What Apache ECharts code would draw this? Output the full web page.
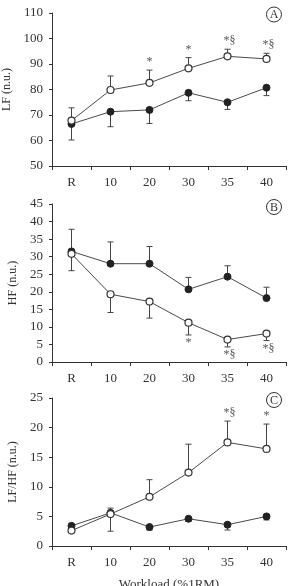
<!DOCTYPE html>
<html>
<head>
<meta charset="utf-8">
<script src="https://cdn.jsdelivr.net/npm/echarts@6/dist/echarts.min.js"></script>
<style>
  html, body { margin: 0; padding: 0; background: #fff; }
  #chart { width: 289px; height: 586px; }
</style>
</head>
<body>
<div id="chart"></div>
<script>
// workload categories (shared by the three panels)
const categories = ['R', '10', '20', '30', '35', '40'];

// panel A - LF (n.u.)
const lfOpen = [67.8, 79.8, 82.6, 88.3, 93.0, 92.0];
const lfOpenErr = [5.0, 5.5, 5.0, 4.2, 2.8, 2.2];
const lfFilled = [66.5, 71.3, 72.0, 78.7, 75.0, 80.7];
const lfFilledErr = [-6.3, -5.9, -5.3, -3.1, -2.8, -3.1];
const lfMarks = ['', '', '*', '*', '*§', '*§'];

// panel B - HF (n.u.)
const hfFilled = [31.5, 28.0, 28.0, 20.7, 24.3, 18.2];
const hfFilledErr = [6.3, 6.2, 4.9, 3.4, 3.1, 3.1];
const hfOpen = [30.8, 19.3, 17.2, 11.2, 6.4, 8.1];
const hfOpenErr = [-4.8, -5.2, -4.7, -3.5, -2.1, -2.0];
const hfMarks = ['', '', '', '*', '*§', '*§'];

// panel C - LF/HF
const ratioOpen = [2.6, 5.4, 8.3, 12.4, 17.5, 16.4];
const ratioOpenErr = [0.3, -2.9, 2.9, 4.8, 3.6, 4.2];
const ratioFilled = [3.4, 5.6, 3.2, 4.6, 3.6, 5.0];
const ratioFilledErr = [-0.4, 0.8, -0.5, -0.4, -0.9, -0.6];
const ratioMarks = ['', '', '', '', '*§', '*'];

const FONT = '"Liberation Serif", "DejaVu Serif", serif';
const INK = '#333';

let chart = echarts.init(document.getElementById('chart'), null, { renderer: 'canvas' });

function xAxis(gridIndex, name) {
    return {
        type: 'category',
        gridIndex: gridIndex,
        data: categories,
        boundaryGap: true,
        name: name || '',
        nameLocation: 'middle',
        nameGap: 32,
        nameTextStyle: { fontFamily: FONT, fontSize: 13, color: INK },
        axisLine: { lineStyle: { color: INK, width: 1 } },
        axisTick: { show: true, length: 4, lineStyle: { color: INK } },
        axisLabel: { fontFamily: FONT, fontSize: 13, color: INK, margin: 10 },
        splitLine: { show: false }
    };
}

function yAxis(gridIndex, name, min, max, interval, gap) {
    return {
        type: 'value',
        gridIndex: gridIndex,
        min: min, max: max, interval: interval,
        name: name,
        nameLocation: 'middle',
        nameGap: gap,
        nameTextStyle: { fontFamily: FONT, fontSize: 12, color: INK },
        axisLine: { show: true, lineStyle: { color: INK, width: 1 } },
        axisTick: { show: true, length: 3, lineStyle: { color: INK } },
        axisLabel: { fontFamily: FONT, fontSize: 13, color: INK, margin: 9 },
        splitLine: { show: false }
    };
}

function lineSeries(idx, values, open) {
    return {
        type: 'line',
        xAxisIndex: idx, yAxisIndex: idx,
        data: values,
        symbol: 'circle',
        symbolSize: 7,
        z: 3,
        lineStyle: { color: '#4a4a4a', width: 1 },
        itemStyle: open
            ? { color: '#fff', borderColor: INK, borderWidth: 1.2 }
            : { color: '#222', borderColor: '#222', borderWidth: 1 },
        emphasis: { disabled: true }
    };
}

// error bar: line from the mean to mean+err, with a cap
function errorSeries(idx, values, errs) {
    return {
        type: 'custom',
        xAxisIndex: idx, yAxisIndex: idx,
        z: 2,
        data: values.map((v, i) => [i, v, errs[i]]),
        renderItem: function (params, api) {
            const p = api.coord([api.value(0), api.value(1)]);
            const q = api.coord([api.value(0), api.value(1) + api.value(2)]);
            const st = { stroke: '#444', lineWidth: 1 };
            return {
                type: 'group',
                children: [
                    { type: 'line', shape: { x1: p[0], y1: p[1], x2: q[0], y2: q[1] }, style: st },
                    { type: 'line', shape: { x1: q[0] - 3, y1: q[1], x2: q[0] + 3, y2: q[1] }, style: st }
                ]
            };
        }
    };
}

// significance marks next to the error bar end
function markSeries(idx, values, errs, marks, below) {
    return {
        type: 'custom',
        xAxisIndex: idx, yAxisIndex: idx,
        z: 4,
        data: values.map((v, i) => [i, v + errs[i]]),
        renderItem: function (params, api) {
            const txt = marks[params.dataIndex];
            if (!txt) return null;
            const q = api.coord([api.value(0), api.value(1)]);
            return {
                type: 'text',
                x: q[0] + (txt.length > 1 ? 2 : 0),
                y: below ? q[1] + 2 : q[1] - 2,
                style: {
                    text: txt,
                    fill: '#555',
                    font: '12px ' + FONT,
                    textAlign: 'center',
                    textVerticalAlign: below ? 'top' : 'bottom'
                }
            };
        }
    };
}

function panelLetter(letter, x, y) {
    return {
        type: 'group',
        x: x, y: y,
        children: [
            { type: 'circle', shape: { cx: 0, cy: 0, r: 7.5 }, style: { fill: '#fff', stroke: INK, lineWidth: 1 } },
            { type: 'text', x: 0, y: 0.5, style: { text: letter, font: '12px ' + FONT, fill: INK, textAlign: 'center', textVerticalAlign: 'middle' } }
        ]
    };
}

let option = {
    animation: false,
    backgroundColor: '#fff',
    grid: [
        { left: 52, width: 234, top: 13, height: 153, outerBoundsMode: 'none', containLabel: false },
        { left: 52, width: 234, top: 204, height: 158, outerBoundsMode: 'none', containLabel: false },
        { left: 52, width: 234, top: 398, height: 148, outerBoundsMode: 'none', containLabel: false }
    ],
    xAxis: [xAxis(0), xAxis(1), xAxis(2, 'Workload (%1RM)')],
    yAxis: [
        yAxis(0, 'LF (n.u.)', 50, 110, 10, 32),
        yAxis(1, 'HF (n.u.)', 0, 45, 5, 28),
        yAxis(2, 'LF/HF (n.u.)', 0, 25, 5, 28)
    ],
    graphic: [
        panelLetter('A', 274, 14.5),
        panelLetter('B', 274, 207),
        panelLetter('C', 274, 400)
    ],
    series: [
        errorSeries(0, lfOpen, lfOpenErr),
        errorSeries(0, lfFilled, lfFilledErr),
        lineSeries(0, lfFilled, false),
        lineSeries(0, lfOpen, true),
        markSeries(0, lfOpen, lfOpenErr, lfMarks, false),

        errorSeries(1, hfFilled, hfFilledErr),
        errorSeries(1, hfOpen, hfOpenErr),
        lineSeries(1, hfFilled, false),
        lineSeries(1, hfOpen, true),
        markSeries(1, hfOpen, hfOpenErr, hfMarks, true),

        errorSeries(2, ratioOpen, ratioOpenErr),
        errorSeries(2, ratioFilled, ratioFilledErr),
        lineSeries(2, ratioFilled, false),
        lineSeries(2, ratioOpen, true),
        markSeries(2, ratioOpen, ratioOpenErr, ratioMarks, false)
    ]
};
chart.setOption(option);
</script>
</body>
</html>
